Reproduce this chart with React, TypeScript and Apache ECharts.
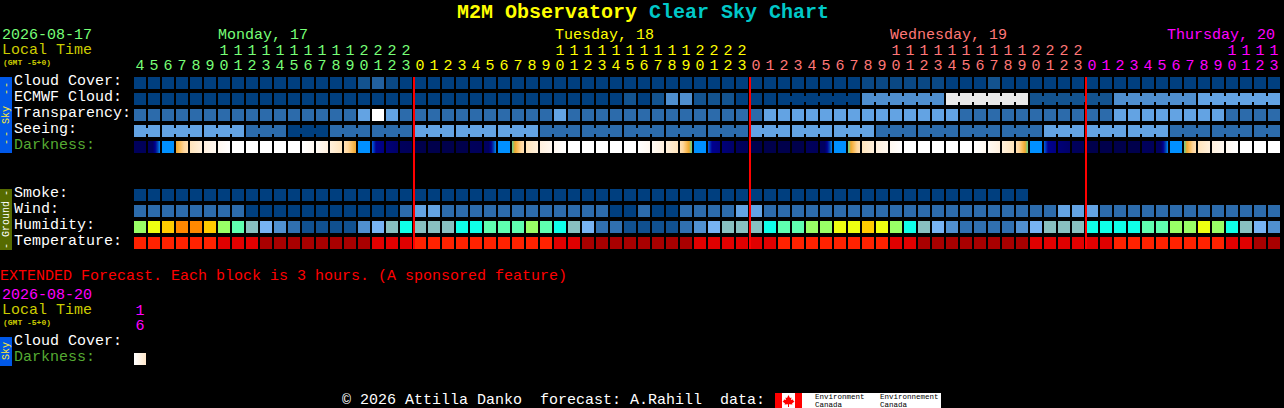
import React, { useEffect, useRef } from "react";
import * as echarts from "echarts";

const FONT = "'Liberation Mono', monospace";

// ---- data ----
const rowNames = ["Cloud Cover:", "ECMWF Cloud:", "Transparency:", "Seeing:", "Darkness:", "", "", "Smoke:", "Wind:", "Humidity:", "Temperature:"];
const hourUnits = [
  "4","5","6","7","8","9","0","1","2","3","4","5","6","7","8","9","0","1","2","3",
  "0","1","2","3","4","5","6","7","8","9","0","1","2","3","4","5","6","7","8","9","0","1","2","3",
  "0","1","2","3","4","5","6","7","8","9","0","1","2","3","4","5","6","7","8","9","0","1","2","3",
  "0","1","2","3","4","5","6","7","8","9","0","1","2","3",
];
const hourTens = [
  "","","","","","","1","1","1","1","1","1","1","1","1","1","2","2","2","2",
  "","","","","","","","","","","1","1","1","1","1","1","1","1","1","1","2","2","2","2",
  "","","","","","","","","","","1","1","1","1","1","1","1","1","1","1","2","2","2","2",
  "","","","","","","","","","","1","1","1","1",
];
const dayStartColumns = [20, 44, 68];

const cloudCover = [
  0,0,0,0,0,0,0,0,0,0, 0,0,0,0,0,0,2,3,1,0,
  0,0,0,0,0,0,0,0,0,0, 0,0,0,0,0,0,0,0,0,0,
  0,0,0,0,0,0,0,0,0,0, 0,0,1,1,1,1,1,1,0,0,
  0,2,0,0,0,0,0,0,0,0, 0,0,0,0,0,0,0,0,0,0, 0,0,
];
const ecmwfCloud = [
  0,0,0,0,0,0,0,0,0,0, 0,0,0,0,0,0,0,0,0,0,
  0,0,0,0,0,0,0,0,0,0, 0,0,0,0,0,2,0,2,5,5,
  2,2,2,0,0,0,0,0,0,0, 0,0,5,5,5,5,5,5,7,7,
  7,7,7,7,2,2,2,2,2,2, 5,5,5,5,5,5,6,6,6,6, 6,6,
];
const transparency = [
  4,4,4,4,4,4,4,4,4,4, 4,4,4,4,4,4,6,8,6,4,
  4,4,4,4,4,4,4,4,4,4, 6,4,4,4,4,4,4,4,4,4,
  4,4,4,4,4,6,6,6,6,6, 6,6,6,6,6,6,6,6,6,4,
  4,4,4,4,4,4,4,4,4,4, 6,6,6,6,6,6,6,6,4,4, 4,4,
];
const seeing = [
  6,6,6,6,6,6,6,6,4,4, 4,0,0,0,4,4,4,4,4,4,
  6,6,6,6,6,6,6,6,6,4, 4,4,4,4,4,4,4,4,4,4,
  4,4,4,4,6,6,6,6,6,6, 6,6,6,4,4,4,4,4,4,4,
  4,4,4,4,4,6,6,6,6,6, 6,6,6,6,4,4,4,4,4,4, 4,4,
];
const darkness = [
  "nB","dawn","blue","rise","c1","c2","c3","W","W","W","W","W","r3","r2","r1","set","blue","dusk","nA","nB",
  "nC","nC","nC","nC","nB","dawn","blue","riseG","c1","c2","c3","W","W","W","W","W","r3","r2","r1","setG","blue","dusk","nA","nB",
  "nC","nC","nC","nC","nB","dawn","blue","riseG","c1","c2","c3","W","W","W","W","W","r3","r2","r1","setG","blue","dusk","nA","nB",
  "nC","nC","nC","nC","nB","dawn","blue","riseG","c1","c2","c3","W","W","W",
];
const smoke: (number | null)[] = [
  0,0,0,0,0,0,0,0,0,0, 0,0,0,0,0,0,0,0,0,0,
  0,0,0,0,0,0,0,0,0,0, 0,0,0,0,0,0,0,0,0,0,
  0,0,0,0,0,0,0,0,0,0, 0,0,0,0,0,0,0,0,0,0,
  0,0,0,0,null,null,null,null,null,null, null,null,null,null,null,null,null,null,null,null, null,null,
];
const wind = [
  4,4,4,4,4,4,4,4,0,0, 0,0,0,0,0,0,0,0,0,4,
  6,6,4,4,4,4,4,4,4,4, 4,4,4,4,0,0,4,0,0,4,
  4,4,4,6,6,4,4,4,4,4, 4,4,4,4,4,4,4,4,4,4,
  4,4,4,4,4,4,6,6,6,4, 4,4,4,4,4,4,4,4,4,4, 4,4,
];
const humidity = [
  3,2,1,0,0,1,3,4,6,7, 8,9,10,10,10,10,8,7,6,5,
  6,6,6,5,5,4,4,4,3,4, 5,6,7,9,9,10,10,10,10,9,
  8,7,6,6,6,5,4,4,3,3, 2,2,1,2,3,5,6,7,8,9,
  9,9,9,8,7,6,6,6,5,5, 5,5,4,4,3,3,2,3,5,6, 7,8,
];
const temperature = [
  0,0,0,0,0,0,1,1,1,2, 2,2,2,2,2,2,2,1,1,1,
  0,0,0,0,0,0,0,0,0,0, 1,1,2,2,2,2,2,2,2,2,
  1,1,1,1,1,1,0,0,0,0, 0,0,0,0,1,1,2,2,2,2,
  2,2,2,2,1,1,1,1,1,1, 0,0,0,0,0,0,0,0,1,1, 2,2,
];

const extRowNames = ["Cloud Cover:", "Darkness:"];
const extUnits = ["6"];
const extTens = ["1"];
const extDarkness = ["ext"];

// ---- palettes ----
const bluePalette = ["#003f7f", "#0a4884", "#13538f", "#22609e", "#2c6bab", "#4f8fcf", "#63a3e3", "#e9e9e9", "#ffffff"];
const humidityPalette = ["#ff8800", "#ffcc00", "#eeff11", "#99ff66", "#5fffb0", "#0fffe8", "#88c0c0", "#77b3f3", "#5090d0", "#3070b0", "#10508f"];
const temperaturePalette = ["#ff2200", "#e00000", "#a80000"];
const stops = (...c: string[]) => c;
const darknessPalette: Record<string, string[]> = {
  nA: stops("#000078", "#000068"),
  nB: stops("#00005c", "#000058"),
  nC: stops("#00004c", "#00004c"),
  dawn: stops("#000060", "#000060", "#000060", "#000090", "#0040b0", "#0088f0"),
  blue: stops("#0090ff", "#0090ff"),
  dusk: stops("#0060e0", "#000090", "#000088", "#000080"),
  rise: stops("#f0a830", "#fbc060", "#ffd69c", "#ffe0b4"),
  riseG: stops("#60d090", "#f0a830", "#fbc060", "#ffd69c", "#ffe0b4"),
  c1: stops("#ffe4bc", "#fff0dc"),
  c2: stops("#fff0de", "#fff8f0"),
  c3: stops("#fff8f0", "#ffffff"),
  W: stops("#ffffff", "#ffffff"),
  r3: stops("#ffffff", "#fff8f0"),
  r2: stops("#fffaf4", "#fff0de"),
  r1: stops("#fff0dc", "#ffe4bc"),
  set: stops("#ffe0b4", "#ffd69c", "#fbc060", "#f0a830"),
  setG: stops("#ffe0b4", "#ffd69c", "#fbc060", "#f0a830", "#60d090"),
  ext: stops("#ffffff", "#fff4e6", "#ffe6c8"),
};

const gradient = (c: string[]) => ({
  type: "linear", x: 0, y: 0, x2: 1, y2: 0,
  colorStops: c.map((color, i) => ({ offset: i / (c.length - 1), color })),
});

const dayColors = ["#77ff77", "#ffff00", "#ff7777", "#ff00ff"];
const hourColor = (index: number) => dayColors[index < 20 ? 0 : index < 44 ? 1 : index < 68 ? 2 : 3];

// ---- series builder ----
function cellSeries(name: string, row: number, values: any[], color: (v: any) => any, link?: (i: number) => boolean, grid = 0) {
  return {
    type: "custom",
    name,
    xAxisIndex: grid === 0 ? 0 : 2,
    yAxisIndex: grid,
    clip: false,
    encode: { x: 0, y: 1 },
    data: values.map((v, i) => [i, row, v === null ? "-" : 1]).filter((d) => d[2] !== "-"),
    renderItem: (params: any, api: any) => {
      const i = api.value(0);
      const c = api.coord([i, api.value(1)]);
      const fill = color(values[i]);
      const kids: any[] = [
        { type: "rect", shape: { x: c[0] - 6, y: c[1] - 6, width: 12, height: 12 }, style: { fill } },
      ];
      if (link && link(i)) {
        kids.push({ type: "rect", shape: { x: c[0] + 6, y: c[1] - 3, width: 2, height: 6 }, style: { fill } });
      }
      return { type: "group", children: kids };
    },
  };
}

const blue = (v: number) => bluePalette[v];
const dark = (v: string) => gradient(darknessPalette[v]);

const sideBars = [
  { x: 0, y: 77, h: 76, fill: "#0058e8" },
  { x: 0, y: 189, h: 61, fill: "#566b00" },
  { x: 0, y: 337, h: 29, fill: "#0058e8" },
];
const sideTexts = [
  { t: "Sky", y: 115, fill: "#ffee33" }, { t: "-", y: 85, fill: "#ffee33" }, { t: "-", y: 92, fill: "#ffee33" },
  { t: "-", y: 134, fill: "#ffee33" }, { t: "-", y: 142, fill: "#ffee33" },
  { t: "Ground", y: 219, fill: "#ffffff" }, { t: "-", y: 193, fill: "#ffffff" }, { t: "-", y: 246, fill: "#ffffff" },
  { t: "Sky", y: 351, fill: "#ffee33" },
];
const plainTexts = [
  { t: "2026-08-17", x: 2, y: 35, fill: "#77ff77" },
  { t: "Local Time", x: 2, y: 50, fill: "#cccc00" },
  { t: "Monday, 17", x: 218, y: 35, fill: "#77ff77" },
  { t: "Tuesday, 18", x: 555, y: 35, fill: "#ffff00" },
  { t: "Wednesday, 19", x: 890, y: 35, fill: "#ff7777" },
  { t: "Thursday, 20", x: 1167, y: 35, fill: "#ff00ff" },
  { t: "EXTENDED Forecast. Each block is 3 hours. (A sponsored feature)", x: 0, y: 276, fill: "#ff0000" },
  { t: "2026-08-20", x: 2, y: 295, fill: "#ff00ff" },
  { t: "Local Time", x: 2, y: 310, fill: "#cccc00" },
  { t: "\u00a9 2026 Attilla Danko  forecast: A.Rahill  data:", x: 342, y: 400, fill: "#ffffff" },
];
const gmtLabels = [{ t: "(GMT -5+0)", x: 3, y: 62 }, { t: "(GMT -5+0)", x: 3, y: 322 }];
const logoTexts = [
  { t: "Environment", x: 815, y: 397 }, { t: "Canada", x: 815, y: 404.5 },
  { t: "Environnement", x: 880, y: 397 }, { t: "Canada", x: 880, y: 404.5 },
];
const leafPoints = [
  [788.5, 395], [790, 398], [791.5, 397.5], [791, 400], [793, 399.5], [793.5, 401], [794.5, 401.5], [792, 403.5],
  [792.5, 404.5], [789, 404.2], [789, 407], [788, 407], [788, 404.2], [784.5, 404.5], [785, 403.5], [782.5, 401.5],
  [783.5, 401], [784, 399.5], [786, 400], [785.5, 397.5], [787, 398],
];

export default function App() {
  const ref = useRef<HTMLDivElement>(null);
  useEffect(() => {
    document.body.style.margin = "0";
    document.body.style.background = "#000";
    const chart = echarts.init(ref.current!, undefined, { renderer: "svg", width: 1284, height: 408 });
    const axisBase = {
      type: "category",
      position: "top",
      axisLine: { show: false },
      axisTick: { show: false },
      splitLine: { show: false },
    };
    const labelBase = { interval: 0, fontFamily: FONT, fontSize: 15, hideOverlap: false, margin: 1 };
    const option: any = {
      animation: false,
      backgroundColor: "#000000",
      title: {
        left: 452,
        top: -3,
        text: "{a|M2M Observatory }{b|Clear Sky Chart}",
        textStyle: {
          rich: {
            a: { fontFamily: FONT, fontSize: 20, fontWeight: "bold", color: "#ffff00" },
            b: { fontFamily: FONT, fontSize: 20, fontWeight: "bold", color: "#00c8c8" },
          },
        },
      },
      grid: [
        { left: 133, top: 75, width: 1148, height: 176, outerBoundsMode: "none" },
        { left: 133, top: 335, width: 14, height: 32, outerBoundsMode: "none" },
      ],
      xAxis: [
        { ...axisBase, gridIndex: 0, data: hourUnits, axisLabel: { ...labelBase, color: (_: any, i: number) => hourColor(i) } },
        { ...axisBase, gridIndex: 0, data: hourTens, offset: 15, axisLabel: { ...labelBase, color: (_: any, i: number) => hourColor(i) } },
        { ...axisBase, gridIndex: 1, data: extUnits, axisLabel: { ...labelBase, color: "#ff00ff" } },
        { ...axisBase, gridIndex: 1, data: extTens, offset: 15, axisLabel: { ...labelBase, color: "#ff00ff" } },
      ],
      yAxis: [0, 1].map((g) => ({
        type: "category",
        inverse: true,
        gridIndex: g,
        data: g === 0 ? rowNames : extRowNames,
        axisLine: { show: false },
        axisTick: { show: false },
        splitLine: { show: false },
        axisLabel: {
          interval: 0,
          align: "left",
          verticalAlign: "bottom",
          lineHeight: 4,
          margin: 119,
          fontFamily: FONT,
          fontSize: 15,
          color: (v: string) => (v === "Darkness:" ? "#55aa33" : "#ffffff"),
        },
      })),
      series: [
        cellSeries("Cloud Cover", 0, cloudCover, blue),
        cellSeries("ECMWF Cloud", 1, ecmwfCloud, blue, (i) => i >= 46 && (i - 46) % 6 !== 5),
        cellSeries("Transparency", 2, transparency, blue),
        cellSeries("Seeing", 3, seeing, blue, (i) => (i + 1) % 3 !== 2 && i < 81),
        cellSeries("Darkness", 4, darkness, dark),
        cellSeries("Smoke", 7, smoke, blue),
        cellSeries("Wind", 8, wind, blue),
        cellSeries("Humidity", 9, humidity, (v: number) => humidityPalette[v]),
        cellSeries("Temperature", 10, temperature, (v: number) => temperaturePalette[v]),
        cellSeries("Extended Darkness", 1, extDarkness, dark, undefined, 1),
        {
          type: "custom",
          name: "Midnight",
          xAxisIndex: 0,
          yAxisIndex: 0,
          clip: false,
          z: 5,
          encode: { x: 0 },
          data: dayStartColumns.map((c) => [c]),
          renderItem: (params: any, api: any) => {
            const top = api.coord([api.value(0), 0]);
            const bottom = api.coord([api.value(0), 10]);
            return {
              type: "rect",
              shape: { x: top[0] - 7, y: top[1] - 6, width: 2, height: bottom[1] - top[1] + 12 },
              style: { fill: "#ff0000" },
            };
          },
        },
      ],
      graphic: [
        ...sideBars.map((b) => ({ type: "rect", shape: { x: b.x, y: b.y, width: 12, height: b.h }, style: { fill: b.fill } })),
        ...sideTexts.map((s) => ({
          type: "text", x: 6, y: s.y, rotation: Math.PI / 2,
          style: { text: s.t, fill: s.fill, font: `10px ${FONT}`, align: "center", verticalAlign: "middle" },
        })),
        ...plainTexts.map((s) => ({
          type: "text", x: s.x, y: s.y,
          style: { text: s.t, fill: s.fill, font: `15px ${FONT}`, align: "left", verticalAlign: "middle" },
        })),
        ...gmtLabels.map((s) => ({
          type: "text", x: s.x, y: s.y,
          style: { text: s.t, fill: "#cccc00", font: `bold 8px ${FONT}`, align: "left", verticalAlign: "middle" },
        })),
        { type: "rect", shape: { x: 775, y: 393, width: 27, height: 15 }, style: { fill: "#ff0000" } },
        { type: "rect", shape: { x: 782, y: 393, width: 13, height: 15 }, style: { fill: "#ffffff" } },
        { type: "polygon", shape: { points: leafPoints }, style: { fill: "#ff0000" } },
        { type: "rect", shape: { x: 802, y: 393, width: 139, height: 15 }, style: { fill: "#ffffff" } },
        ...logoTexts.map((s) => ({
          type: "text", x: s.x, y: s.y,
          style: { text: s.t, fill: "#000000", font: `7.5px ${FONT}`, align: "left", verticalAlign: "middle" },
        })),
      ],
    };
    chart.setOption(option);
    return () => chart.dispose();
  }, []);
  return <div ref={ref} style={{ position: "fixed", left: 0, top: 0, width: 1284, height: 408, overflow: "hidden" }} />;
}
